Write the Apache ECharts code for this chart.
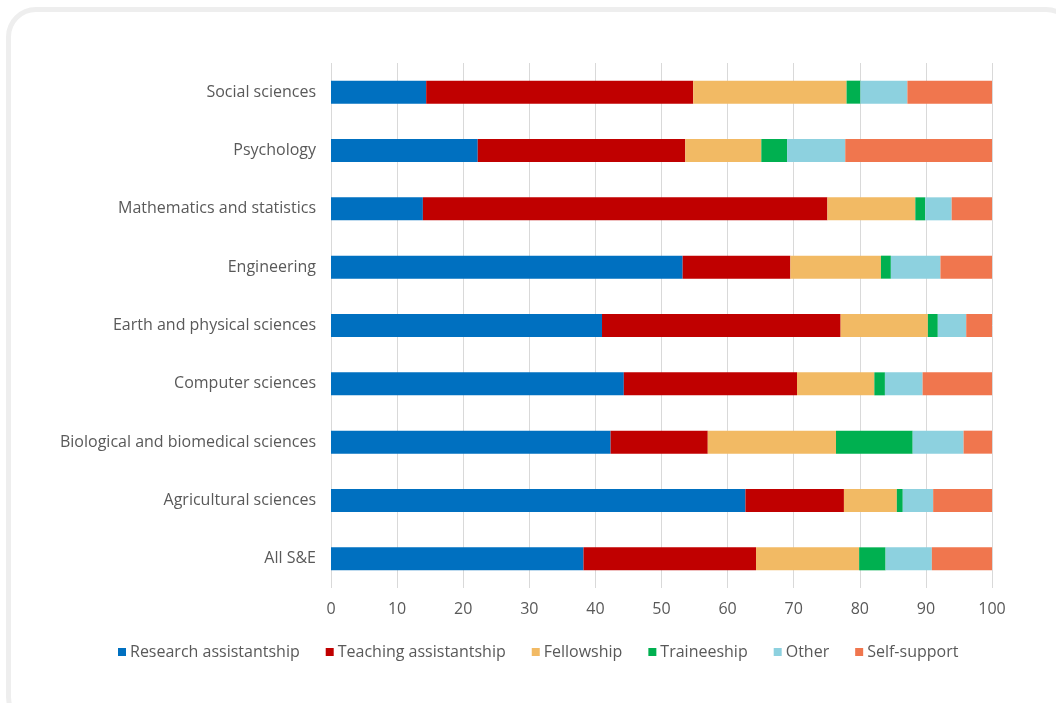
<!DOCTYPE html>
<html>
<head>
<meta charset="utf-8">
<script src="https://cdn.jsdelivr.net/npm/echarts@6/dist/echarts.min.js"></script>
<style>
  html, body { margin: 0; padding: 0; background: #ffffff; overflow: hidden; }
  #frame {
    position: absolute; left: 6px; top: 7px; width: 1070px; height: 720px;
    border: 5px solid #eeeeee; border-radius: 30px; box-sizing: border-box;
  }
  #chart { position: absolute; left: 0; top: 0; width: 1056px; height: 703px; }
</style>
</head>
<body>
<div id="frame"></div>
<div id="chart"></div>
<script>
// Fields of study, bottom to top as drawn on the category axis
const categories = [
  'All S&E',
  'Agricultural sciences',
  'Biological and biomedical sciences',
  'Computer sciences',
  'Earth and physical sciences',
  'Engineering',
  'Mathematics and statistics',
  'Psychology',
  'Social sciences'
];

// Primary support mechanism, percent of students
const researchAssistantship = [38.2, 62.7, 42.3, 44.3, 41.0, 53.2, 13.9, 22.2, 14.4];
const teachingAssistantship = [26.1, 14.9, 14.7, 26.2, 36.1, 16.3, 61.2, 31.4, 40.4];
const fellowship            = [15.6,  8.0, 19.4, 11.7, 13.2, 13.7, 13.3, 11.5, 23.2];
const traineeship           = [ 4.0,  0.9, 11.6,  1.6,  1.5,  1.5,  1.5,  3.9,  2.1];
const other                 = [ 7.0,  4.6,  7.7,  5.7,  4.3,  7.5,  4.0,  8.8,  7.1];
const selfSupport           = [ 9.1,  8.9,  4.3, 10.5,  3.9,  7.8,  6.1, 22.2, 12.8];

const xTicks = [0, 10, 20, 30, 40, 50, 60, 70, 80, 90, 100];

const seriesDefs = [
  { name: 'Research assistantship', data: researchAssistantship, color: '#0070C0' },
  { name: 'Teaching assistantship', data: teachingAssistantship, color: '#C00000' },
  { name: 'Fellowship',             data: fellowship,            color: '#F2BA64' },
  { name: 'Traineeship',            data: traineeship,           color: '#00B050' },
  { name: 'Other',                  data: other,                 color: '#8DD1DF' },
  { name: 'Self-support',           data: selfSupport,           color: '#F0764E' }
];

const font = 'Open Sans';
const textColor = '#595959';

const chart = echarts.init(document.getElementById('chart'), null, { renderer: 'canvas' });
chart.setOption({
  animation: false,
  grid: { left: 331, right: 64, top: 63, bottom: 115, containLabel: false },
  legend: {
    left: 113, top: 639,
    icon: 'rect', itemWidth: 8, itemHeight: 8, itemGap: 26,
    textStyle: { color: textColor, fontFamily: font, fontSize: 16, padding: [0, 0, 0, -1] },
    data: seriesDefs.map(s => s.name)
  },
  xAxis: {
    type: 'value', min: xTicks[0], max: xTicks[xTicks.length - 1], interval: 10,
    axisLine: { show: false }, axisTick: { show: false },
    axisLabel: { color: textColor, fontFamily: font, fontSize: 16, margin: 13 },
    splitLine: { show: true, lineStyle: { color: '#d9d9d9', width: 1 } }
  },
  yAxis: {
    type: 'category', data: categories,
    axisLine: { show: false }, axisTick: { show: false },
    axisLabel: { color: textColor, fontFamily: font, fontSize: 16, margin: 15 }
  },
  series: seriesDefs.map(s => ({
    name: s.name, type: 'bar', stack: 'total', data: s.data,
    barWidth: 23, itemStyle: { color: s.color }
  }))
});
</script>
</body>
</html>
